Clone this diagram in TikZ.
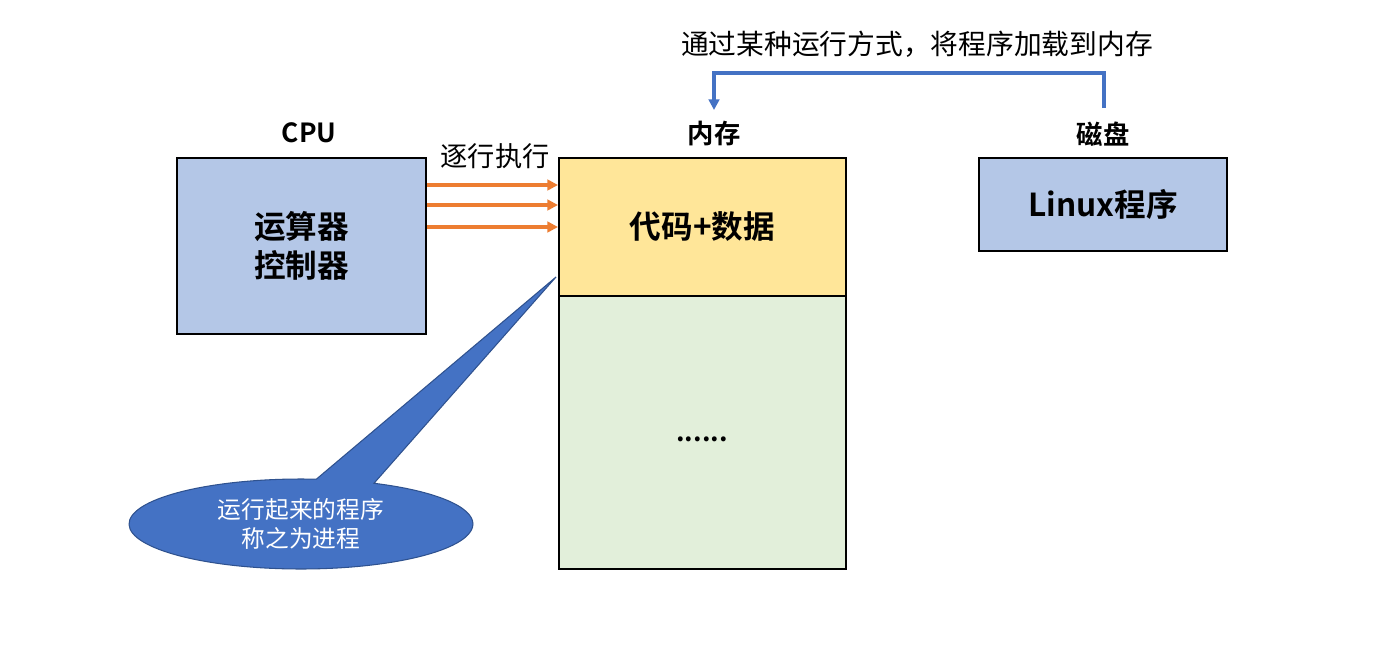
\documentclass[tikz,border=0pt]{standalone}
\usepackage{fontspec}
\setmainfont{Noto Sans CJK SC}[BoldFont={* Bold}]
\usetikzlibrary{arrows.meta,shapes.callouts}
\definecolor{boxblue}{HTML}{B4C7E7}
\definecolor{codeyellow}{HTML}{FFE699}
\definecolor{restgreen}{HTML}{E2EFDA}
\definecolor{runorange}{HTML}{ED7D31}
\definecolor{loadblue}{HTML}{4472C4}
\definecolor{calloutedge}{HTML}{2F528F}

\begin{document}
\begin{tikzpicture}[x = 0.02cm, y = -0.02cm,
  box/.style = {draw, line width = 1.2pt, inner sep = 0pt, align = center},
  heading/.style = {font = \fontsize{15}{18}\selectfont\bfseries},
  inbox/.style = {font = \fontsize{18}{22}\selectfont\bfseries},
  exec/.style = {draw = runorange, line width = 2.1pt, -{Triangle[length = 6pt, width = 6pt]}},
  load/.style = {draw = loadblue, line width = 1.8pt, -{Triangle[length = 6pt, width = 6pt]}}]
\useasboundingbox (0,0) rectangle (1391,649);
% boxes
\node [box, fill = boxblue, minimum width = 4.98cm, minimum height = 3.52cm, inbox] (cpu) at (301.5,246) {运算器\\控制器};
\node [box, fill = codeyellow, minimum width = 5.74cm, minimum height = 2.76cm, inbox] (code) at (702.5,227) {代码+数据};
\node [box, fill = restgreen, minimum width = 5.74cm, minimum height = 5.46cm] (rest) at (702.5,432.5) {};
\node [font = \fontsize{15}{18}\selectfont\bfseries] (dots) at (702,439) {......};
\node [box, fill = boxblue, minimum width = 4.96cm, minimum height = 1.86cm, inbox] (disk) at (1103,204.5) {Linux程序};
% headings
\node [heading] (cpulabel) at (309,133) {CPU};
\node [heading] (memlabel) at (714,134) {内存};
\node [heading] (disklabel) at (1103,134) {磁盘};
% execution
\node [font = \fontsize{15.5}{18}\selectfont] (run) at (495,156) {逐行执行};
\foreach \y in {185,205,227}
  \draw [exec] (cpu.east |- 0,\y) -- (code.west |- 0,\y);
% loading
\coordinate (src) at (1104,108);
\coordinate (dst) at (714,110);
\draw [load] (src) -- ++(0,-35) -| (dst);
\node [font = \fontsize{15.8}{18}\selectfont] (how) at (917,44) {通过某种运行方式，将程序加载到内存};
% callout
\coordinate (tip) at (556,277);
\node [ellipse callout, callout absolute pointer = {(tip)}, callout pointer arc = 20,
  fill = loadblue, draw = calloutedge, line width = 0.6pt, minimum width = 6.88cm,
  minimum height = 1.8cm, inner sep = 0pt, align = center, text = white,
  font = \fontsize{13.5}{16.5}\selectfont] (proc) at (301,524) {运行起来的程序\\称之为进程};
\end{tikzpicture}
\end{document}
